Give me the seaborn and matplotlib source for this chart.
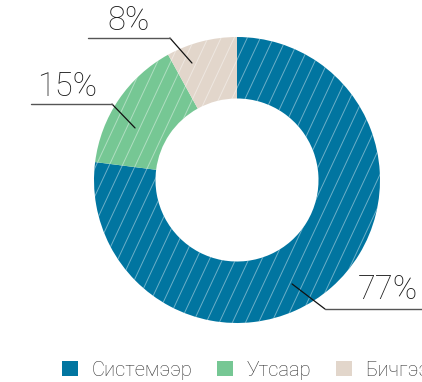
import numpy as np
import matplotlib
matplotlib.use("Agg")
import matplotlib.pyplot as plt
import seaborn as sns
from matplotlib.collections import LineCollection
from matplotlib.patches import Patch

categories = ["Системээр", "Утсаар", "Бичгээр"]
shares = [77, 15, 8]
labels = ["77%", "15%", "8%"]
colors = ["#0175A0", "#76C794", "#E2D6CB"]

sns.set_theme(style="white")
plt.rcParams["font.family"] = ["Roboto", "DejaVu Sans"]

fig = plt.figure(figsize=(4.22, 3.82), dpi=100)
ax = fig.add_axes([94 / 422, 1 - 323 / 382, 286 / 422, 286 / 382])

wedges, _ = ax.pie(shares, colors=colors, startangle=90, counterclock=False,
                   radius=1.0, wedgeprops=dict(width=0.43, linewidth=0))
ax.set_xlim(-1, 1)
ax.set_ylim(-1, 1)
ax.set_aspect("equal")
ax.axis("off")

# thin white diagonal hatching over every ring segment
theta = np.deg2rad(65)
d = np.array([np.cos(theta), np.sin(theta)])
n = np.array([np.sin(theta), -np.cos(theta)])
segs = []
for off in np.arange(-1.6, 1.6, 0.083):
    c = n * off
    segs.append([c - 2 * d, c + 2 * d])
for w in wedges:
    lc = LineCollection(segs, colors="white", linewidths=0.7, alpha=0.42)
    ax.add_collection(lc)
    lc.set_clip_path(w)

# percentage labels with leader lines
label_layout = {
    "77%": dict(anchor=(0.385, -0.727), knee=(0.615, -0.902), end=(1.30, -0.902), text=(1.056, -0.772)),
    "15%": dict(anchor=(-0.713, 0.364), knee=(-0.874, 0.531), end=(-1.44, 0.531), text=(-1.19, 0.648)),
    "8%": dict(anchor=(-0.315, 0.818), knee=(-0.469, 0.993), end=(-1.042, 0.993), text=(-0.76, 1.11)),
}
for lab in labels:
    L = label_layout[lab]
    ax.plot([L["anchor"][0], L["knee"][0]], [L["anchor"][1], L["knee"][1]],
            color="#111111", lw=0.9, clip_on=False)
    ax.plot([L["knee"][0], L["end"][0]], [L["knee"][1], L["end"][1]],
            color="#555555", lw=1.0, clip_on=False)
    ax.text(L["text"][0], L["text"][1], lab, ha="center", va="center",
            fontsize=23.5, fontweight="light", color="#1a1a1a", clip_on=False)

handles = [Patch(facecolor=c, edgecolor="none") for c in colors]
fig.legend(handles, categories, loc="center left",
           bbox_to_anchor=(62 / 422, 1 - 370 / 382), ncol=3, frameon=False,
           prop=dict(size=14.5, weight="light"), handlelength=0.8,
           handleheight=0.8, handletextpad=0.65, columnspacing=1.24,
           borderpad=0, borderaxespad=0, labelcolor="#333333")

fig.savefig("out.png", dpi=100)
